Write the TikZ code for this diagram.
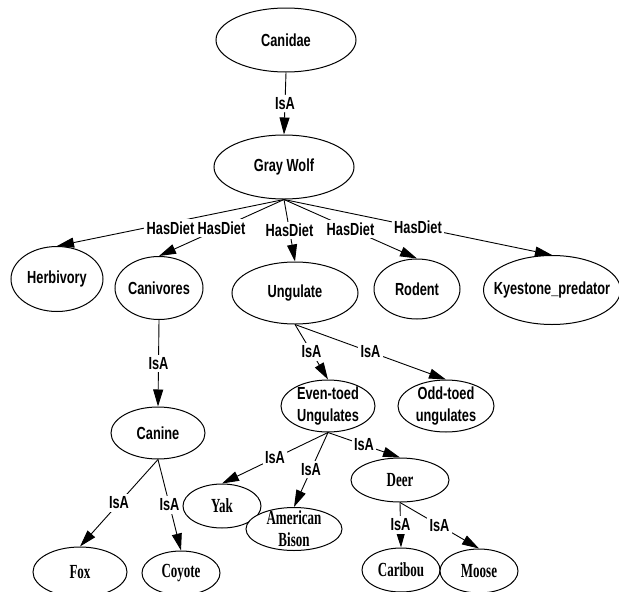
\documentclass[tikz,border=0pt]{standalone}
\usepackage{fontspec}
\usetikzlibrary{shapes.geometric,arrows.meta}
\newfontfamily\conceptfont[FakeStretch=0.73]{Liberation Sans Bold}
\newfontfamily\speciesfont[FakeStretch=0.65]{Liberation Serif Bold}

\tikzset{
  concept/.style={ellipse, draw, line width=1pt, fill=white, inner sep=-10pt, align=center,
    font=\conceptfont\fontsize{17.5}{22}\selectfont},
  species/.style={concept, font=\speciesfont\fontsize{20}{22}\selectfont},
  rel/.style={line width=0.9pt, -{Triangle[length=17pt,width=10pt]}},
  lbl/.style={fill=white, inner sep=2.5pt, font=\conceptfont\fontsize{17.5}{20}\selectfont},
}

\begin{document}
\begin{tikzpicture}[x=1pt,y=-1pt]
			%%%%% START %%%%%
			\useasboundingbox (0,0) rectangle (619,592);
			
			\node[concept, minimum width=140pt, minimum height=64pt] (canidae) at (286,40) {Canidae};
			\node[concept, minimum width=140pt, minimum height=64pt] (graywolf) at (284,167) {Gray Wolf};
			
			\node[concept, minimum width=92pt, minimum height=65pt] (herbivory) at (57,279) {Herbivory};
			\node[concept, minimum width=88pt, minimum height=63pt] (canivores) at (159,288) {Canivores};
			\node[concept, minimum width=126pt, minimum height=62pt] (ungulate) at (295,293) {Ungulate};
			\node[concept, minimum width=86pt, minimum height=60pt] (rodent) at (417,289) {Rodent};
			\node[concept, minimum width=137pt, minimum height=69pt] (keystone) at (552,290) {Kyestone\_predator};
			
			\node[concept, minimum width=94pt, minimum height=52pt] (canine) at (158,433) {Canine};
			\node[concept, minimum width=94pt, minimum height=52pt] (eventoed) at (328,406) {Even-toed\\Ungulates};
			\node[concept, minimum width=96pt, minimum height=52pt] (oddtoed) at (446,406) {Odd-toed\\ungulates};
			
			\node[species, minimum width=78pt, minimum height=44pt] (yak) at (222,506) {Yak};
			\node[species, minimum width=96pt, minimum height=43pt] (bison) at (294,529) {American\\Bison};
			\node[species, minimum width=98pt, minimum height=44pt] (deer) at (400,480) {Deer};
			\node[species, minimum width=78pt, minimum height=44pt] (caribou) at (401,570) {Caribou};
			\node[species, minimum width=78pt, minimum height=44pt] (moose) at (479,571) {Moose};
			\node[species, minimum width=94pt, minimum height=50pt] (fox) at (80,572) {Fox};
			\node[species, minimum width=78pt, minimum height=44pt] (coyote) at (181,573) {Coyote};
			
			\draw[rel] (canidae.south) -- node[lbl] {IsA} (graywolf.north);
			
			\draw[rel] (graywolf.south) -- node[lbl, yshift=-5pt] {HasDiet} (herbivory.north);
			\draw[rel] (graywolf.south) -- node[lbl] {HasDiet} (canivores.north);
			\draw[rel] (graywolf.south) -- node[lbl] {HasDiet} (ungulate.north);
			\draw[rel] (graywolf.south) -- node[lbl] {HasDiet} (rodent.north);
			\draw[rel] (graywolf.south) -- node[lbl] {HasDiet} (keystone.north);
			
			\draw[rel] (canivores.south) -- node[lbl] {IsA} (canine.north);
			\draw[rel] (canine.south) -- node[lbl] {IsA} (fox.north);
			\draw[rel] (canine.south) -- node[lbl] {IsA} (coyote.north);
			
			\draw[rel] (ungulate.south) -- node[lbl] {IsA} (eventoed.north);
			\draw[rel] (ungulate.south) -- node[lbl] {IsA} (oddtoed.north);
			
			\draw[rel] (eventoed.south) -- node[lbl] {IsA} (yak.north);
			\draw[rel] (eventoed.south) -- node[lbl] {IsA} (bison.north);
			\draw[rel] (eventoed.south) -- node[lbl] {IsA} (deer.north);
			
			\draw[rel] (deer.south) -- node[lbl] {IsA} (caribou.north);
			\draw[rel] (deer.south) -- node[lbl] {IsA} (moose.north);
			
			%%%%% END %%%%%
\end{tikzpicture}
\end{document}
